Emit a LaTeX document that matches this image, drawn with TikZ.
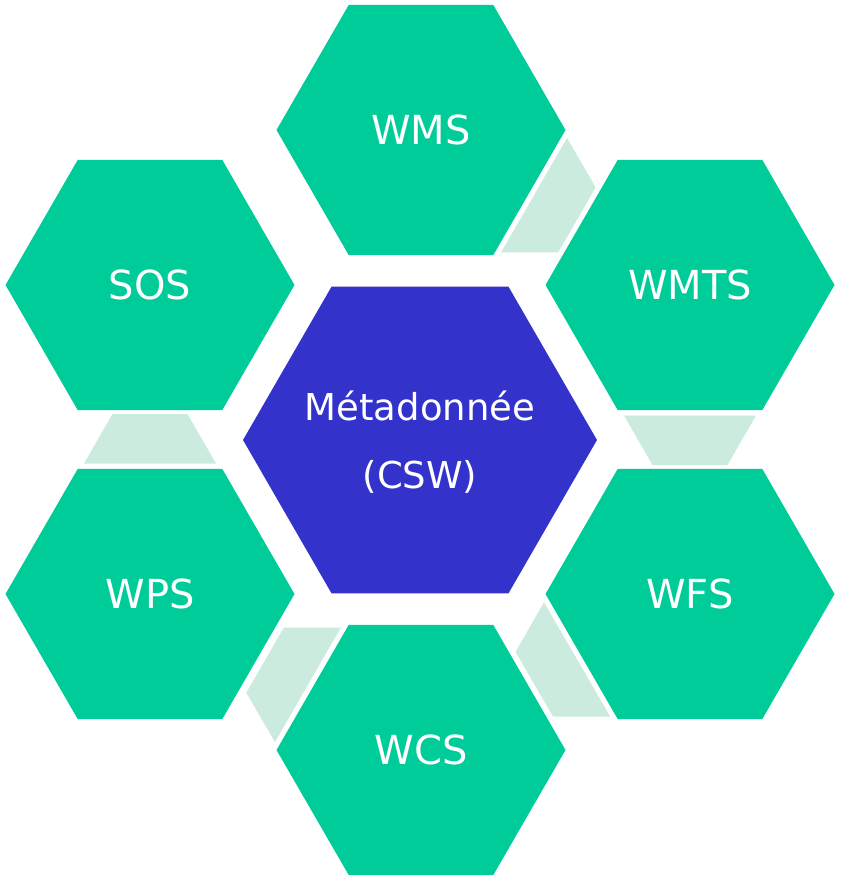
\documentclass[tikz,border=0pt]{standalone}
\usepackage{fontspec}
\setmainfont{DejaVu Sans}
\usetikzlibrary{shapes.geometric,calc}
\definecolor{hexgreen}{RGB}{0,204,153}
\definecolor{hexblue}{RGB}{51,51,204}
\definecolor{linkgreen}{RGB}{204,235,223}
\tikzset{
  hexo/.style={regular polygon, regular polygon sides=6,
    minimum size=289pt, inner sep=0pt, outer sep=0pt, fill=hexgreen, text=white,
    font=\fontsize{40}{48}\selectfont},
  hexc/.style={regular polygon, regular polygon sides=6,
    minimum size=354pt, inner sep=0pt, outer sep=0pt, fill=hexblue},
  ctext/.style={anchor=base, text=white, inner sep=0pt, font=\fontsize{37}{44}\selectfont},
  linkfill/.style={fill=linkgreen}
}
\newcommand\hexlink[2]{%
  \path ($(#1)!130.5pt!(#2)$) coordinate (lw) ($(#1)!180pt!(#2)$) coordinate (ln);
  \fill[linkfill] ($(lw)!66pt!90:(#2)$) -- ($(lw)!66pt!-90:(#2)$)
     -- ($(ln)!37.5pt!-90:(#2)$) -- ($(ln)!37.5pt!90:(#2)$) -- cycle;
}
\begin{document}
\begin{tikzpicture}[x=1pt,y=-1pt]
\useasboundingbox (0,0) rectangle (840,880);
\node[hexc] (meta) at (420,440) {};
\node[ctext] (metat1) at (420,420) {Métadonnée};
\node[ctext] (metat2) at (420,488) {(CSW)};
\node[hexo] (wms) at (421,130) {WMS};
\node[hexo] (wmts) at (690,285) {WMTS};
\node[hexo] (wfs) at (690,594) {WFS};
\node[hexo] (wcs) at (421,750) {WCS};
\node[hexo] (wps) at (150,594) {WPS};
\node[hexo] (sos) at (150,285) {SOS};
\hexlink{wms}{wmts}
\hexlink{wmts}{wfs}
\hexlink{wfs}{wcs}
\hexlink{wcs}{wps}
\hexlink{wps}{sos}
\end{tikzpicture}
\end{document}
